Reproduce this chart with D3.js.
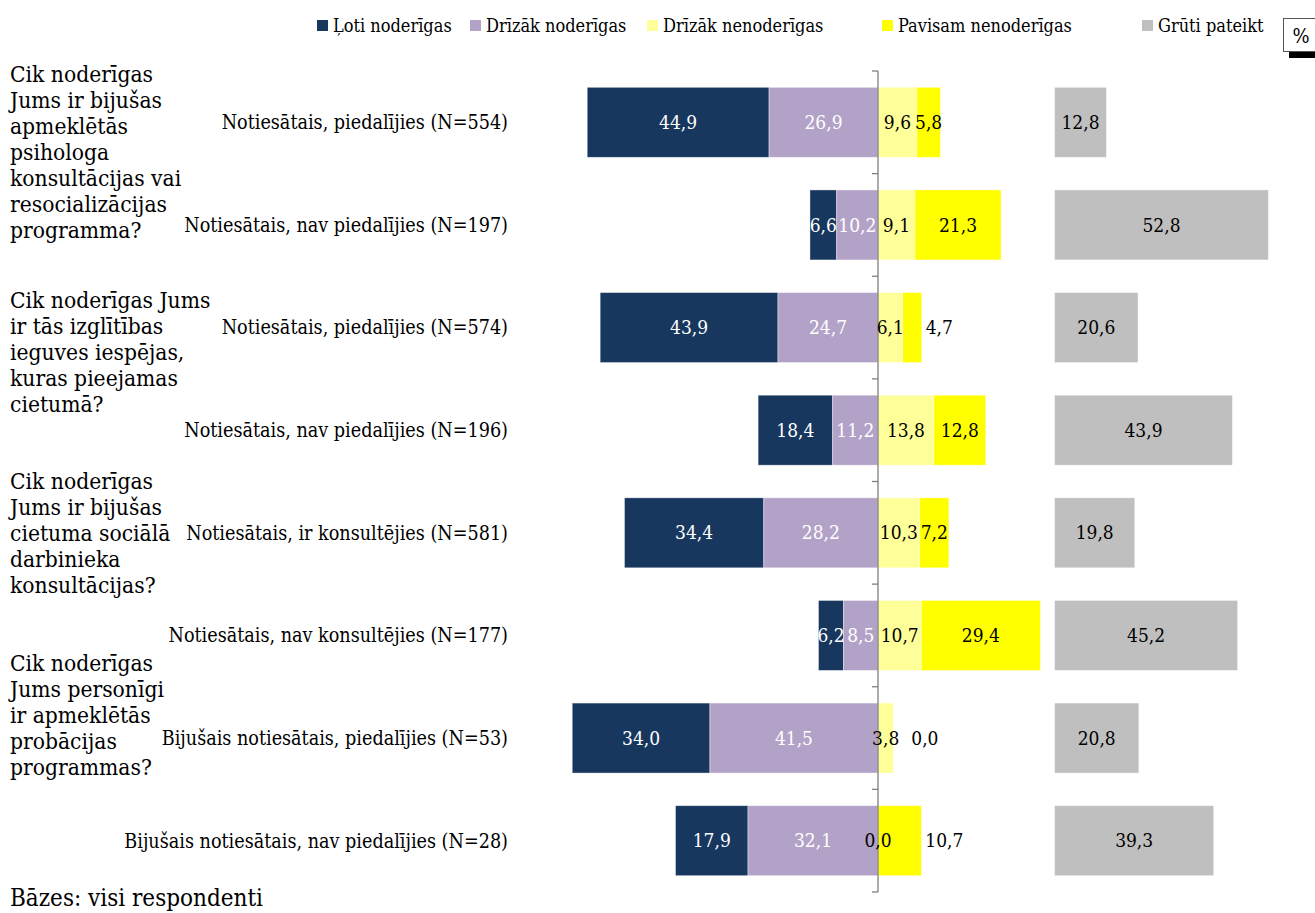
<!DOCTYPE html>
<html><head><meta charset="utf-8">
<script src="https://cdn.jsdelivr.net/npm/d3@7"></script>
<style>
body{margin:0;background:#fff;}
svg text{font-family:"DejaVu Serif", serif; font-stretch: condensed;}
</style></head><body>
<svg id="chart" width="1315" height="913"></svg>
<script>
// ---------- DATA ----------
const categories = [
  "Notiesātais, piedalījies (N=554)",
  "Notiesātais, nav piedalījies (N=197)",
  "Notiesātais, piedalījies (N=574)",
  "Notiesātais, nav piedalījies (N=196)",
  "Notiesātais, ir konsultējies (N=581)",
  "Notiesātais, nav konsultējies (N=177)",
  "Bijušais notiesātais, piedalījies (N=53)",
  "Bijušais notiesātais, nav piedalījies (N=28)"
];
const groupLabels = [
  ["Cik noderīgas","Jums ir bijušas","apmeklētās","psihologa","konsultācijas vai","resocializācijas","programma?"],
  ["Cik noderīgas Jums","ir tās izglītības","ieguves iespējas,","kuras pieejamas","cietumā?"],
  ["Cik noderīgas","Jums ir bijušas","cietuma sociālā","darbinieka","konsultācijas?"],
  ["Cik noderīgas","Jums personīgi","ir apmeklētās","probācijas","programmas?"]
];
const seriesNames = ["Ļoti noderīgas","Drīzāk noderīgas","Drīzāk nenoderīgas","Pavisam nenoderīgas","Grūti pateikt"];
const lotiNoderigas      = [44.9, 6.6, 43.9, 18.4, 34.4, 6.2, 34.0, 17.9];
const drizakNoderigas    = [26.9, 10.2, 24.7, 11.2, 28.2, 8.5, 41.5, 32.1];
const drizakNenoderigas  = [9.6, 9.1, 6.1, 13.8, 10.3, 10.7, 3.8, 0.0];
const pavisamNenoderigas = [5.8, 21.3, 4.7, 12.8, 7.2, 29.4, 0.0, 10.7];
const grutiPateikt       = [12.8, 52.8, 20.6, 43.9, 19.8, 45.2, 20.8, 39.3];
const pavisamLabelOutside = [false, false, true, false, false, false, true, true];
const grayOffset = 43.6;   // transparent spacer before "Grūti pateikt"
const footnote = "Bāzes: visi respondenti";
const unitLabel = "%";

// ---------- LAYOUT ----------
const colors = ["#17375E", "#B3A2C7", "#FFFF99", "#FFFF00", "#BFBFBF"];
const labelColors = ["#FFFFFF", "#FFFFFF", "#000000", "#000000", "#000000"];
const groupLabelShift = [-5, 15.5, -8.7, -32];

const svg = d3.select("#chart");
const x = d3.scaleLinear().domain([-80, 110]).range([878 - 80 * 4.05, 878 + 110 * 4.05]);
const y = d3.scaleBand().domain(d3.range(categories.length)).range([71, 892])
  .paddingInner(0.318).paddingOuter(0.159);
const xg = d3.scaleLinear().domain([0, 100]).range([x(grayOffset), x(grayOffset + 100)]);

const fmt = v => d3.format(".1f")(v).replace(".", ",");

// segments
const segs = [];
categories.forEach((c, i) => {
  const a = lotiNoderigas[i], b = drizakNoderigas[i], cc = drizakNenoderigas[i], d = pavisamNenoderigas[i];
  segs.push({i, s: 0, v: a, x0: -(a + b), x1: -b});
  segs.push({i, s: 1, v: b, x0: -b, x1: 0});
  segs.push({i, s: 2, v: cc, x0: 0, x1: cc});
  segs.push({i, s: 3, v: d, x0: cc, x1: cc + d});
});

const bars = svg.append("g");
bars.selectAll("rect.seg").data(segs).join("rect")
  .attr("class", "seg")
  .attr("x", d => x(d.x0)).attr("width", d => x(d.x1) - x(d.x0))
  .attr("y", d => y(d.i)).attr("height", y.bandwidth())
  .attr("fill", d => colors[d.s])
  .attr("stroke", "#ffffff").attr("stroke-opacity", 0.5).attr("stroke-width", 0.8);

bars.selectAll("rect.gray").data(grutiPateikt).join("rect")
  .attr("class", "gray")
  .attr("x", xg(0)).attr("width", d => xg(d) - xg(0))
  .attr("y", (d, i) => y(i)).attr("height", y.bandwidth())
  .attr("fill", colors[4])
  .attr("stroke", "#ffffff").attr("stroke-opacity", 0.5).attr("stroke-width", 0.8);

// axis
const axis = svg.append("g").attr("transform", `translate(${x(0)},0)`);
axis.append("line").attr("x1", 0).attr("x2", 0).attr("y1", y.range()[0]).attr("y2", y.range()[1])
  .attr("stroke", "#7f7f7f").attr("stroke-width", 1.3);
const tickYs = d3.range(categories.length + 1).map(i => y.range()[0] + i * y.step());
axis.selectAll("line.tick").data(tickYs).join("line").attr("class", "tick")
  .attr("x1", -6).attr("x2", 0).attr("y1", d => d).attr("y2", d => d)
  .attr("stroke", "#7f7f7f").attr("stroke-width", 1.3);

// value labels
const labels = svg.append("g").attr("font-size", 19);
const labelEnds = {};
segs.filter(d => d.s !== 3).forEach(d => {
  const t = labels.append("text")
    .attr("x", (x(d.x0) + x(d.x1)) / 2).attr("y", y(d.i) + y.bandwidth() / 2)
    .attr("dy", "0.35em").attr("text-anchor", "middle")
    .attr("fill", labelColors[d.s]).text(fmt(d.v));
  if (d.s === 2) labelEnds[d.i] = (x(d.x0) + x(d.x1)) / 2 + t.node().getComputedTextLength() / 2;
});
segs.filter(d => d.s === 3).forEach(d => {
  const out = pavisamLabelOutside[d.i];
  const px = out ? Math.max(x(d.x1) + 4, labelEnds[d.i] + 12) : (x(d.x0) + x(d.x1)) / 2;
  labels.append("text")
    .attr("x", px).attr("y", y(d.i) + y.bandwidth() / 2)
    .attr("dy", "0.35em").attr("text-anchor", out ? "start" : "middle")
    .attr("fill", labelColors[3]).text(fmt(d.v));
});
grutiPateikt.forEach((v, i) => {
  labels.append("text")
    .attr("x", (xg(0) + xg(v)) / 2).attr("y", y(i) + y.bandwidth() / 2)
    .attr("dy", "0.35em").attr("text-anchor", "middle")
    .attr("fill", labelColors[4]).text(fmt(v));
});

// category labels
svg.append("g").attr("font-size", 19.6).selectAll("text").data(categories).join("text")
  .attr("x", 508).attr("y", (d, i) => y(i) + y.bandwidth() / 2).attr("dy", "0.35em")
  .attr("text-anchor", "end").attr("fill", "#000").text(d => d);

// group labels
const gl = svg.append("g").attr("font-size", 22.6).attr("fill", "#000");
groupLabels.forEach((lines, g) => {
  const top = y(g * 2) + groupLabelShift[g];
  const t = gl.append("text").attr("x", 10).attr("y", top);
  lines.forEach((ln, k) => t.append("tspan").attr("x", 10).attr("y", top + k * 25.9).text(ln));
});

// legend
const legendX = [317, 470, 647, 882, 1142];
const lg = svg.append("g").attr("font-size", 18);
seriesNames.forEach((n, k) => {
  lg.append("rect").attr("x", legendX[k]).attr("y", 20).attr("width", 11).attr("height", 11).attr("fill", colors[k]);
  lg.append("text").attr("x", legendX[k] + 16).attr("y", 32).text(n);
});

// % box
svg.append("rect").attr("x", 1289).attr("y", 50).attr("width", 30).attr("height", 8).attr("fill", "#000");
svg.append("rect").attr("x", 1283.5).attr("y", 18.5).attr("width", 40).attr("height", 33)
  .attr("fill", "#fff").attr("stroke", "#555").attr("stroke-width", 1);
svg.append("text").attr("x", 1301).attr("y", 43).attr("font-size", 20).attr("text-anchor", "middle").text(unitLabel);

// footnote
svg.append("text").attr("x", 10).attr("y", 906).attr("font-size", 24).text(footnote);
</script>
</body></html>
